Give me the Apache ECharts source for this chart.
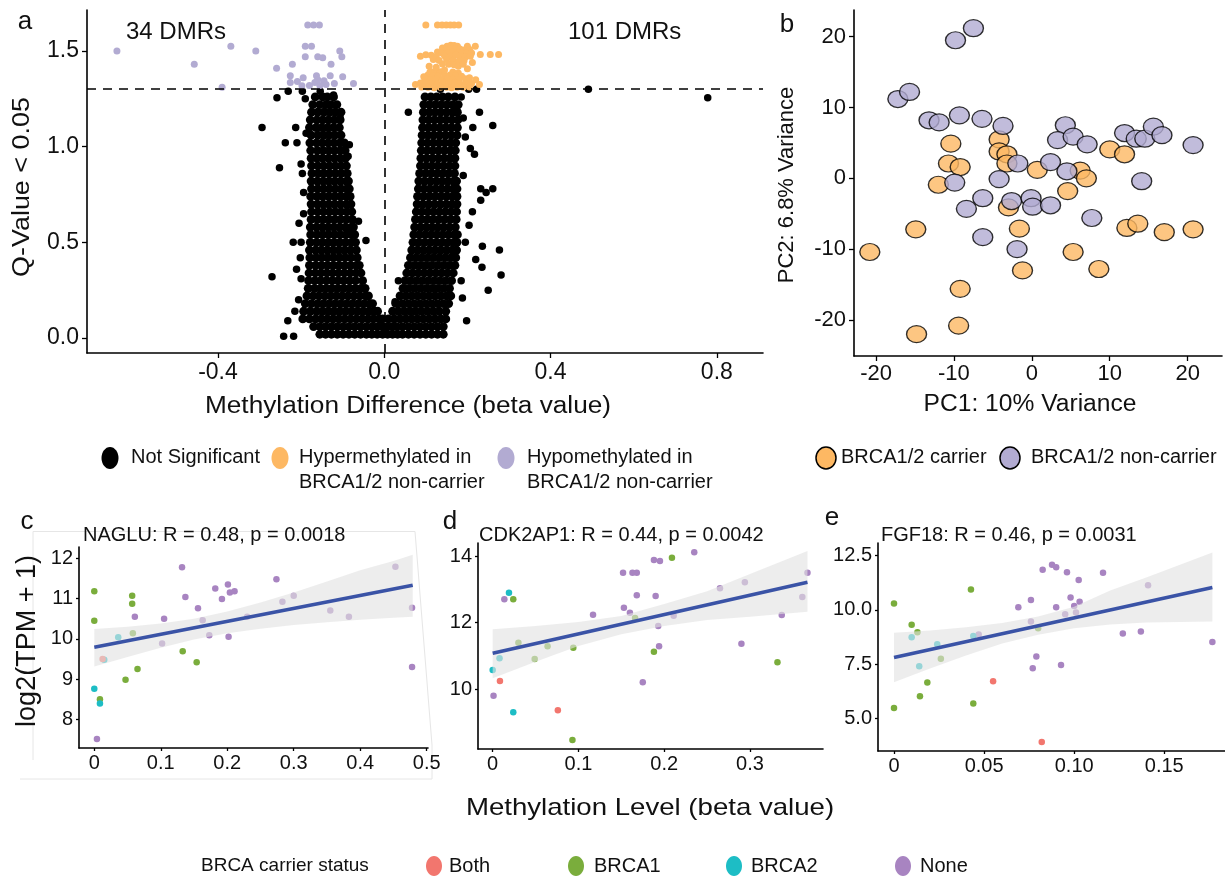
<!DOCTYPE html>
<html><head><meta charset="utf-8">
<script src="https://cdn.jsdelivr.net/npm/echarts@6/dist/echarts.min.js"></script>
<style>html,body{margin:0;padding:0;background:#fff}#chart{width:1225px;height:879px}</style>
</head><body><div id="chart"></div>
<script>
const FONT = '"Liberation Sans", Arial, Helvetica, sans-serif';

// ---------------- Panel a: volcano ----------------
const qThreshold = 1.301;
const aXTicks = [-0.4, 0, 0.4, 0.8];
const aXLabels = ['-0.4', '0.0', '0.4', '0.8'];
const aYTicks = [0, 0.5, 1, 1.5];
const aYLabels = ['0.0', '0.5', '1.0', '1.5'];

const hypoPoints = [[-0.643,1.50],[-0.457,1.43],[-0.369,1.525],[-0.309,1.50],[-0.39,1.31],[-0.259,1.41],[-0.221,1.43],[-0.226,1.37],[-0.209,1.34],[-0.195,1.36],[-0.226,1.335],
[-0.184,1.635],[-0.17,1.635],[-0.156,1.635],[-0.19,1.525],[-0.175,1.525],[-0.19,1.47],[-0.16,1.47],[-0.148,1.465],[-0.107,1.50],[-0.102,1.47],[-0.128,1.43],
[-0.163,1.37],[-0.16,1.35],[-0.167,1.335],[-0.145,1.345],[-0.13,1.37],[-0.10,1.365],[-0.074,1.33],[-0.155,1.32],[-0.14,1.325],[-0.12,1.33],[-0.18,1.32],[-0.198,1.318]];

const hyperPoints = [[0.100,1.635],[0.128,1.635],[0.139,1.635],[0.149,1.635],[0.159,1.635],[0.168,1.635],[0.179,1.635],
[0.151,1.525],[0.160,1.530],[0.168,1.528],[0.176,1.525],[0.200,1.525],[0.219,1.525],
[0.140,1.515],[0.148,1.505],[0.158,1.51],[0.170,1.512],[0.182,1.51],[0.192,1.505],[0.205,1.508],
[0.128,1.495],[0.138,1.49],[0.155,1.492],[0.165,1.495],[0.178,1.49],[0.188,1.488],[0.198,1.49],[0.21,1.49],
[0.087,1.473],[0.100,1.48],[0.113,1.478],[0.125,1.47],[0.145,1.475],[0.16,1.472],[0.172,1.478],[0.185,1.47],[0.195,1.468],[0.207,1.472],[0.231,1.482],[0.255,1.482],[0.275,1.482],
[0.118,1.455],[0.132,1.45],[0.15,1.455],[0.166,1.45],[0.18,1.448],[0.192,1.45],
[0.14,1.432],[0.155,1.43],[0.168,1.428],[0.178,1.42],[0.2,1.407],
[0.11,1.39],[0.122,1.395],[0.135,1.392],[0.165,1.39],[0.178,1.385],
[0.105,1.375],[0.118,1.37],[0.13,1.368],[0.145,1.372],[0.158,1.375],[0.172,1.37],[0.186,1.368],
[0.098,1.355],[0.112,1.35],[0.125,1.352],[0.14,1.348],[0.152,1.355],[0.166,1.352],[0.18,1.35],[0.195,1.355],
[0.075,1.325],[0.087,1.333],[0.1,1.335],[0.115,1.33],[0.128,1.328],[0.142,1.333],[0.155,1.33],[0.17,1.335],[0.182,1.33],[0.197,1.333],[0.21,1.33],[0.229,1.325],
[0.09,1.312],[0.105,1.31],[0.12,1.308],[0.135,1.31],[0.15,1.31],[0.162,1.308],[0.175,1.31],[0.19,1.31],[0.205,1.312],
[0.108,1.42],[0.125,1.415],[0.19,1.43],[0.212,1.44],[0.095,1.365],[0.205,1.36],[0.22,1.35],[0.145,1.4]];

const nsOutliers = [[-0.294,1.10],[-0.258,1.255],[-0.238,1.02],[-0.252,0.89],[-0.27,0.32],[-0.242,0.01],[-0.218,0.01],[-0.232,0.09],[-0.062,0.61],[-0.044,0.51],[-0.084,1.01],[-0.087,0.95],[-0.106,1.15],[0.026,0.18],[0.034,0.30],[-0.231,1.29],[-0.197,1.29],[-0.219,0.50],[-0.2,0.5],[-0.211,0.36],[-0.2,0.31],[-0.197,0.86],[-0.2,0.91],[-0.194,0.76],[-0.194,0.65],[-0.188,1.07],[-0.213,1.10],[-0.21,1.02],[-0.19,1.25],[-0.154,1.29],[-0.122,1.27],[-0.087,0.56],[-0.205,0.6],[-0.202,0.42],[-0.206,0.2],[-0.215,0.14],
[0.058,1.18],[0.261,1.11],[0.229,1.18],[0.213,1.10],[0.207,0.99],[0.217,0.96],[0.261,0.78],[0.245,0.76],[0.232,0.78],[0.232,0.72],[0.212,0.66],[0.204,0.59],[0.236,0.48],[0.277,0.46],[0.22,0.41],[0.235,0.37],[0.281,0.33],[0.25,0.25],[0.188,0.21],[0.198,0.09],[0.026,0.19],[0.491,1.30],[0.778,1.255],[0.175,1.21],[0.185,1.26],[0.203,1.30],[0.222,1.30],[0.135,1.30],[0.19,1.15],[0.195,1.05],[0.19,0.85],[0.195,0.5],[0.185,0.3]];

// rows: [y, x1, x2, ...] of the dense non-significant clouds
const nsCoreLeftRows = [
[1.26,-0.166,-0.148,-0.137,-0.122],
[1.22,-0.172,-0.155,-0.14,-0.128,-0.114],
[1.18,-0.175,-0.16,-0.145,-0.131,-0.118,-0.104],
[1.14,-0.178,-0.162,-0.148,-0.134,-0.12,-0.106],
[1.10,-0.18,-0.164,-0.15,-0.136,-0.122,-0.108],
[1.06,-0.176,-0.16,-0.146,-0.133,-0.119,-0.104],
[1.02,-0.179,-0.163,-0.149,-0.135,-0.121,-0.107,-0.096],
[0.98,-0.177,-0.161,-0.147,-0.133,-0.119,-0.105,-0.094],
[0.94,-0.176,-0.162,-0.148,-0.134,-0.12,-0.106,-0.093],
[0.90,-0.175,-0.16,-0.146,-0.132,-0.118,-0.104,-0.091],
[0.86,-0.174,-0.159,-0.145,-0.131,-0.117,-0.103,-0.089],
[0.82,-0.176,-0.161,-0.147,-0.133,-0.119,-0.105,-0.091,-0.086],
[0.78,-0.175,-0.16,-0.146,-0.132,-0.118,-0.104,-0.09,-0.084],
[0.74,-0.177,-0.162,-0.148,-0.134,-0.12,-0.106,-0.092,-0.082],
[0.70,-0.176,-0.161,-0.147,-0.133,-0.119,-0.105,-0.091,-0.08],
[0.66,-0.175,-0.16,-0.146,-0.132,-0.118,-0.104,-0.09,-0.078],
[0.62,-0.176,-0.161,-0.147,-0.133,-0.119,-0.105,-0.091,-0.077],
[0.58,-0.178,-0.163,-0.149,-0.135,-0.121,-0.107,-0.093,-0.079,-0.074],
[0.54,-0.177,-0.162,-0.148,-0.134,-0.12,-0.106,-0.092,-0.078,-0.071],
[0.50,-0.178,-0.163,-0.149,-0.135,-0.121,-0.107,-0.093,-0.079,-0.069],
[0.46,-0.18,-0.165,-0.151,-0.137,-0.123,-0.109,-0.095,-0.081,-0.067],
[0.42,-0.179,-0.164,-0.15,-0.136,-0.122,-0.108,-0.094,-0.08,-0.065],
[0.38,-0.18,-0.165,-0.151,-0.137,-0.123,-0.109,-0.095,-0.081,-0.067,-0.06],
[0.34,-0.181,-0.166,-0.152,-0.138,-0.124,-0.11,-0.096,-0.082,-0.068,-0.056],
[0.30,-0.182,-0.167,-0.153,-0.139,-0.125,-0.111,-0.097,-0.083,-0.069,-0.052],
[0.26,-0.183,-0.168,-0.154,-0.14,-0.126,-0.112,-0.098,-0.084,-0.07,-0.056,-0.046],
[0.22,-0.186,-0.171,-0.157,-0.143,-0.129,-0.115,-0.101,-0.087,-0.073,-0.059,-0.045,-0.038],
[0.18,-0.19,-0.175,-0.16,-0.146,-0.132,-0.118,-0.104,-0.09,-0.076,-0.062,-0.048,-0.034,-0.028],
[0.14,-0.194,-0.178,-0.163,-0.149,-0.135,-0.121,-0.107,-0.093,-0.079,-0.065,-0.051,-0.037,-0.024,-0.016],
[0.10,-0.196,-0.18,-0.165,-0.151,-0.137,-0.123,-0.109,-0.095,-0.081,-0.067,-0.053,-0.039,-0.026,-0.012,-0.004],
[0.06,-0.17,-0.155,-0.141,-0.127,-0.113,-0.099,-0.085,-0.071,-0.057,-0.043,-0.029,-0.016,-0.004,0.006],
[0.02,-0.155,-0.141,-0.127,-0.113,-0.099,-0.085,-0.071,-0.057,-0.043,-0.03,-0.017,-0.004,0.008,0.02,0.032]];

const nsCoreRightRows = [
[1.26,0.098,0.112,0.126,0.14,0.154,0.17],
[1.22,0.095,0.109,0.123,0.137,0.151,0.165,0.178],
[1.18,0.094,0.108,0.122,0.136,0.15,0.164,0.176],
[1.14,0.093,0.107,0.121,0.135,0.149,0.163,0.177],
[1.10,0.092,0.106,0.12,0.134,0.148,0.162,0.176],
[1.06,0.091,0.105,0.119,0.133,0.147,0.161,0.175],
[1.02,0.09,0.104,0.118,0.132,0.146,0.16,0.172],
[0.98,0.089,0.103,0.117,0.131,0.145,0.159,0.171],
[0.94,0.088,0.102,0.116,0.13,0.144,0.158,0.17],
[0.90,0.087,0.101,0.115,0.129,0.143,0.157,0.17],
[0.86,0.085,0.099,0.113,0.127,0.141,0.155,0.169],
[0.82,0.083,0.097,0.111,0.125,0.139,0.153,0.167,0.174],
[0.78,0.082,0.096,0.11,0.124,0.138,0.152,0.166,0.175],
[0.74,0.08,0.094,0.108,0.122,0.136,0.15,0.164,0.175],
[0.70,0.079,0.093,0.107,0.121,0.135,0.149,0.163,0.175],
[0.66,0.077,0.091,0.105,0.119,0.133,0.147,0.161,0.174],
[0.62,0.075,0.089,0.103,0.117,0.131,0.145,0.159,0.173],
[0.58,0.073,0.087,0.101,0.115,0.129,0.143,0.157,0.171],
[0.54,0.071,0.085,0.099,0.113,0.127,0.141,0.155,0.169,0.176],
[0.50,0.069,0.083,0.097,0.111,0.125,0.139,0.153,0.167,0.175],
[0.46,0.066,0.08,0.094,0.108,0.122,0.136,0.15,0.164,0.174],
[0.42,0.063,0.077,0.091,0.105,0.119,0.133,0.147,0.161,0.172],
[0.38,0.058,0.072,0.086,0.1,0.114,0.128,0.142,0.156,0.17],
[0.34,0.054,0.068,0.082,0.096,0.11,0.124,0.138,0.152,0.166],
[0.30,0.05,0.064,0.078,0.092,0.106,0.12,0.134,0.148,0.162],
[0.26,0.045,0.059,0.073,0.087,0.101,0.115,0.129,0.143,0.157],
[0.22,0.038,0.052,0.066,0.08,0.094,0.108,0.122,0.136,0.15,0.16],
[0.18,0.03,0.044,0.058,0.072,0.086,0.1,0.114,0.128,0.142,0.155],
[0.14,0.02,0.034,0.048,0.062,0.076,0.09,0.104,0.118,0.132,0.148],
[0.10,0.01,0.024,0.038,0.052,0.066,0.08,0.094,0.108,0.122,0.136,0.148],
[0.06,0.018,0.03,0.044,0.058,0.072,0.086,0.1,0.114,0.128,0.142],
[0.02,0.044,0.058,0.072,0.086,0.1,0.114,0.128,0.142]];

// ---------------- Panel b: PCA ----------------
const bTicks = [-20, -10, 0, 10, 20];
const pcaCarrier = [[-20.8,-10.4],[-14.9,-7.2],[-14.8,-22.0],[-9.4,-20.8],[-9.2,-15.6],[-10.4,4.9],[-10.7,2.1],[-9.2,1.6],[-12.0,-0.9],[-4.2,5.5],[-4.2,3.8],[-3.2,3.4],[-3.2,2.1],[-3.0,-4.1],[-1.6,-7.1],[-1.2,-13.0],[0.7,1.2],[6.2,1.1],[7.0,0.0],[4.6,-1.8],[5.3,-10.4],[8.6,-12.8],[10.0,4.1],[11.9,3.4],[12.2,-7.0],[13.6,-6.4],[17.0,-7.6],[20.7,-7.2]];
const pcaNonCarrier = [[-9.8,19.5],[-7.5,21.2],[-17.2,11.2],[-15.7,12.2],[-13.2,8.2],[-11.9,7.9],[-9.3,8.9],[-6.4,8.4],[-3.7,7.4],[4.3,7.5],[3.3,5.4],[5.3,5.9],[7.1,4.8],[11.9,6.4],[13.4,5.6],[14.5,5.6],[15.6,7.3],[16.7,6.1],[20.7,4.7],[-1.8,2.1],[2.4,2.3],[4.5,1.0],[14.1,-0.4],[-9.9,-0.6],[-4.2,-0.1],[-6.3,-2.8],[-8.4,-4.3],[-2.6,-3.2],[-0.1,-2.8],[0.1,-4.0],[2.4,-3.8],[7.7,-5.6],[-6.3,-8.3],[-1.9,-10.0]];

// ---------------- Panel c: NAGLU ----------------
const cXTicks = [0, 0.1, 0.2, 0.3, 0.4, 0.5];
const cXLabels = ['0', '0.1', '0.2', '0.3', '0.4', '0.5'];
const cYTicks = [8, 9, 10, 11, 12];
const cYLabels = ['8', '9', '10', '11', '12'];
const naBoth = [[0.0125,9.50]];
const naBrca1 = [[0.0,11.18],[0.0,10.45],[0.057,11.07],[0.057,10.87],[0.058,10.14],[0.0085,8.50],[0.047,8.98],[0.065,9.25],[0.133,9.69],[0.154,9.42]];
const naBrca2 = [[0.0,8.76],[0.0085,8.39],[0.036,10.04],[0.015,9.48]];
const naNone = [[0.004,7.51],[0.061,10.55],[0.102,9.88],[0.105,10.50],[0.132,11.78],[0.137,11.04],[0.156,10.76],[0.163,10.46],[0.173,10.09],[0.182,11.25],[0.192,10.99],[0.201,11.35],[0.204,11.15],[0.211,11.18],[0.202,10.05],[0.23,10.55],[0.274,11.48],[0.283,10.92],[0.30,11.07],[0.355,10.70],[0.383,10.55],[0.453,11.79],[0.478,10.77],[0.478,9.30]];
const naLine = [[0,9.79],[0.479,11.33]];
const naBand = [[0,9.31,10.24],[0.05,9.55,10.3],[0.1,9.78,10.38],[0.15,9.98,10.5],[0.2,10.14,10.68],[0.25,10.25,10.9],[0.3,10.34,11.15],[0.35,10.41,11.42],[0.4,10.47,11.7],[0.45,10.52,11.93],[0.479,10.55,12.09]];

// ---------------- Panel d: CDK2AP1 ----------------
const dXTicks = [0, 0.1, 0.2, 0.3];
const dXLabels = ['0', '0.1', '0.2', '0.3'];
const dYTicks = [10, 12, 14];
const dYLabels = ['10', '12', '14'];
const cdBoth = [[0.0085,10.25],[0.076,9.37]];
const cdBrca1 = [[0.024,12.70],[0.030,11.40],[0.049,10.91],[0.064,11.29],[0.094,11.25],[0.093,8.48],[0.166,12.14],[0.188,11.13],[0.209,13.95],[0.332,10.81]];
const cdBrca2 = [[0.019,12.90],[0.008,10.93],[0.0,10.58],[0.024,9.31]];
const cdNone = [[0.001,9.81],[0.0136,12.70],[0.117,12.24],[0.152,13.50],[0.163,13.50],[0.168,13.50],[0.153,12.45],[0.160,12.30],[0.168,12.82],[0.175,10.21],[0.188,13.88],[0.195,13.85],[0.190,12.80],[0.193,11.90],[0.194,11.29],[0.211,12.21],[0.235,14.11],[0.265,13.03],[0.294,13.21],[0.29,11.37],[0.337,12.23],[0.361,12.77],[0.367,13.50]];
const cdLine = [[0,11.08],[0.367,13.21]];
const cdBand = [[0,10.33,11.80],[0.05,10.83,11.9],[0.1,11.3,12.02],[0.15,11.65,12.2],[0.2,11.9,12.56],[0.25,12.08,12.94],[0.3,12.18,13.46],[0.367,12.33,14.15]];

// ---------------- Panel e: FGF18 ----------------
const eXTicks = [0, 0.05, 0.1, 0.15];
const eXLabels = ['0', '0.05', '0.10', '0.15'];
const eYTicks = [5, 7.5, 10, 12.5];
const eYLabels = ['5.0', '7.5', '10.0', '12.5'];
const fgBoth = [[0.055,6.71],[0.082,3.91]];
const fgBrca1 = [[0,10.29],[0,5.48],[0.0098,9.32],[0.013,8.97],[0.0185,6.65],[0.0144,6.02],[0.026,7.75],[0.0427,10.94],[0.044,5.68],[0.080,9.15]];
const fgBrca2 = [[0.0098,8.74],[0.014,7.40],[0.024,8.42],[0.044,8.80]];
const fgNone = [[0.047,8.86],[0.069,10.12],[0.076,10.46],[0.076,9.46],[0.077,7.31],[0.079,7.85],[0.0825,11.85],[0.0877,12.08],[0.090,11.97],[0.090,10.12],[0.0927,7.46],[0.095,9.80],[0.096,11.74],[0.098,10.57],[0.100,10.18],[0.101,9.88],[0.103,10.38],[0.1025,11.38],[0.116,11.71],[0.127,8.91],[0.137,9.0],[0.141,11.14],[0.1767,8.52]];
const fgLine = [[0,7.80],[0.1767,11.03]];
const fgBand = [[0,6.66,8.95],[0.02,7.3,9.05],[0.04,7.9,9.2],[0.06,8.45,9.4],[0.08,8.85,9.7],[0.1,9.15,10.15],[0.12,9.33,10.9],[0.14,9.42,11.5],[0.1767,9.46,12.65]];

// ---------------- styles ----------------
const C_ORANGE = '#FDB863', C_PURPLE = '#B2ABD2';
const C_BOTH = '#F2766E', C_B1 = '#7AAD3C', C_B2 = '#1DBDC5', C_NONE = '#A884C1';

function rowsToPoints(rows) {
  const out = [];
  rows.forEach(r => { for (let i = 1; i < r.length; i++) out.push([r[i], r[0]]); });
  return out;
}
const nsCorePoints = rowsToPoints(nsCoreLeftRows).concat(rowsToPoints(nsCoreRightRows));

function axis(gi, min, max, ticks, labels, fs, margin, tickLen) {
  return {
    type: 'value', gridIndex: gi, min: min, max: max,
    axisLine: { show: true, onZero: false, lineStyle: { color: '#000', width: 1.6 } },
    axisTick: { show: true, customValues: ticks, length: tickLen, lineStyle: { color: '#000', width: 1.3 } },
    axisLabel: { show: true, customValues: ticks, margin: margin, fontSize: fs, color: '#111', fontFamily: FONT,
      formatter: function (v) { const i = ticks.findIndex(t => Math.abs(t - v) < 1e-9); return i >= 0 ? labels[i] : ''; } },
    splitLine: { show: false }
  };
}
function scat(gi, data, color, size, extra) {
  return Object.assign({ type: 'scatter', xAxisIndex: gi, yAxisIndex: gi, data: data, symbol: 'circle', symbolSize: size,
    itemStyle: { color: color, opacity: 1 }, silent: true, z: 2, emphasis: { disabled: true } }, extra || {});
}
function band(gi, rows) {
  return { type: 'custom', xAxisIndex: gi, yAxisIndex: gi, z: 5, silent: true, data: [rows[0]],
    renderItem: function (params, api) {
      const up = rows.map(r => api.coord([r[0], r[2]]));
      const lo = rows.slice().reverse().map(r => api.coord([r[0], r[1]]));
      return { type: 'polygon', shape: { points: up.concat(lo) }, style: { fill: 'rgba(226,226,226,0.62)' } };
    } };
}
function fit(gi, data) {
  return { type: 'line', xAxisIndex: gi, yAxisIndex: gi, data: data, symbol: 'none', showSymbol: false, silent: true, z: 6,
    lineStyle: { color: '#3A53A6', width: 3.6 } };
}
function T(text, x, y, fs, o) {
  o = o || {};
  return { type: 'text', x: x, y: y, rotation: o.rot || 0, scaleX: o.sx || 1, silent: true, z: 100,
    style: { text: text, font: fs + 'px ' + FONT, fill: '#111', textAlign: o.align || 'left', textVerticalAlign: 'middle', align: o.align || 'left', verticalAlign: 'middle' } };
}
function E(cx, cy, rx, ry, fill, stroke) {
  return { type: 'ellipse', silent: true, z: 100, shape: { cx: cx, cy: cy, rx: rx, ry: ry },
    style: { fill: fill, stroke: stroke || null, lineWidth: stroke ? 1.5 : 0 } };
}

const chart = echarts.init(document.getElementById('chart'), null, { renderer: 'canvas' });
const option = {
  animation: false,
  backgroundColor: '#fff',
  grid: [
    { left: 87, top: 10, width: 676, height: 343 },
    { left: 854, top: 10, width: 368, height: 346 },
    { left: 79, top: 547, width: 349, height: 201 },
    { left: 478, top: 543, width: 345, height: 206 },
    { left: 878, top: 543, width: 347, height: 208 }
  ],
  xAxis: [
    axis(0, -0.715, 0.911, aXTicks, aXLabels, 23, 8, 5),
    axis(1, -22.83, 24.41, bTicks, bTicks.map(String), 22, 7, 5),
    axis(2, -0.023, 0.502, cXTicks, cXLabels, 20, 5, 3),
    axis(3, -0.0171, 0.3851, dXTicks, dXLabels, 20, 5, 3),
    axis(4, -0.00888, 0.1837, eXTicks, eXLabels, 20, 5, 3)
  ],
  yAxis: [
    axis(0, -0.078, 1.714, aYTicks, aYLabels, 23, 8, 5),
    axis(1, -25.08, 23.77, bTicks, bTicks.map(String), 22, 8, 5),
    axis(2, 7.287, 12.28, cYTicks, cYLabels, 20, 6, 3),
    axis(3, 8.209, 14.39, dYTicks, dYLabels, 20, 6, 3),
    axis(4, 3.492, 13.086, eYTicks, eYLabels, 20, 6, 3)
  ],
  series: [
    scat(0, nsCorePoints, '#000', 8.8, {
      markLine: { silent: true, symbol: 'none', label: { show: false }, animation: false,
        lineStyle: { color: '#000', type: [9, 7], width: 1.6 },
        data: [{ xAxis: 0 }, { yAxis: qThreshold }] } }),
    scat(0, nsOutliers, '#000', 7.5),
    scat(0, hypoPoints, C_PURPLE, 7),
    scat(0, hyperPoints, C_ORANGE, 7),
    scat(1, pcaCarrier, C_ORANGE, [20, 17], { itemStyle: { color: C_ORANGE, borderColor: '#000', borderWidth: 1.3 } }),
    scat(1, pcaNonCarrier, C_PURPLE, [20, 17], { itemStyle: { color: C_PURPLE, borderColor: '#000', borderWidth: 1.3 } }),
    scat(2, naNone, C_NONE, 6.5), scat(2, naBrca1, C_B1, 6.5), scat(2, naBrca2, C_B2, 6.5), scat(2, naBoth, C_BOTH, 6.5),
    band(2, naBand), fit(2, naLine),
    scat(3, cdNone, C_NONE, 6.5), scat(3, cdBrca1, C_B1, 6.5), scat(3, cdBrca2, C_B2, 6.5), scat(3, cdBoth, C_BOTH, 6.5),
    band(3, cdBand), fit(3, cdLine),
    scat(4, fgNone, C_NONE, 6.5), scat(4, fgBrca1, C_B1, 6.5), scat(4, fgBrca2, C_B2, 6.5), scat(4, fgBoth, C_BOTH, 6.5),
    band(4, fgBand), fit(4, fgLine)
  ],
  graphic: [
    { type: 'polyline', silent: true, z: 0, shape: { points: [[33, 760], [33, 531.5], [415, 531.5], [432, 745], [432, 779], [20, 779]] }, style: { stroke: '#e6e6e6', lineWidth: 1, fill: null } },
    T('a', 25, 22, 26, { align: 'center' }),
    T('34 DMRs', 126, 32, 24),
    T('101 DMRs', 568, 32, 24),
    T('Q-Value < 0.05', 23, 187, 23, { align: 'center', rot: Math.PI / 2, sx: 1.17 }),
    T('Methylation Difference (beta value)', 408, 407, 23, { align: 'center', sx: 1.14 }),
    T('b', 787, 25, 26, { align: 'center' }),
    T('PC2: 6.8% Variance', 787, 185, 22, { align: 'center', rot: Math.PI / 2 }),
    T('PC1: 10% Variance', 1030, 405, 23, { align: 'center', sx: 1.07 }),
    T('c', 27, 522, 26, { align: 'center' }),
    T('NAGLU: R = 0.48, p = 0.0018', 83, 535, 20),
    T('d', 450, 522, 26, { align: 'center' }),
    T('CDK2AP1: R = 0.44, p = 0.0042', 479, 535, 20),
    T('e', 832, 518, 26, { align: 'center' }),
    T('FGF18: R = 0.46, p = 0.0031', 881, 535, 20),
    T('log2(TPM + 1)', 28, 641, 27, { align: 'center', rot: Math.PI / 2 }),
    T('Methylation Level (beta value)', 650, 808, 24, { align: 'center', sx: 1.15 }),
    // top legends
    E(110, 458, 8.5, 11, '#000'),
    T('Not Significant', 131, 457, 20),
    E(280, 458, 8.5, 11, C_ORANGE),
    T('Hypermethylated in', 299, 457, 20),
    T('BRCA1/2 non-carrier', 299, 482, 20),
    E(506, 458, 8.5, 11, C_PURPLE),
    T('Hypomethylated in', 527, 457, 20),
    T('BRCA1/2 non-carrier', 527, 482, 20),
    E(826, 458, 10, 11, C_ORANGE, '#000'),
    T('BRCA1/2 carrier', 841, 457, 20),
    E(1010, 458, 10, 11, C_PURPLE, '#000'),
    T('BRCA1/2 non-carrier', 1031, 457, 20),
    // bottom legend
    T('BRCA carrier status', 201, 866, 19),
    E(434, 866, 8, 10, C_BOTH),
    T('Both', 449, 866, 20),
    E(576, 866, 8, 10, C_B1),
    T('BRCA1', 594, 866, 20),
    E(734, 866, 8, 10, C_B2),
    T('BRCA2', 751, 866, 20),
    E(903, 866, 8, 10, C_NONE),
    T('None', 920, 866, 20)
  ]
};
chart.setOption(option);
</script></body></html>
